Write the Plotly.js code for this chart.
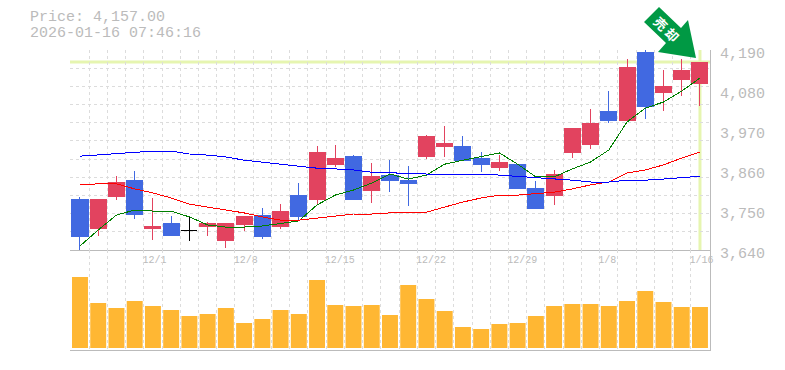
<!DOCTYPE html>
<html><head><meta charset="utf-8">
<script src="https://cdn.plot.ly/plotly-3.0.1.min.js"></script>
<style>html,body{margin:0;padding:0;background:#fff}#c{width:785px;height:370px}
.boxes path{stroke-linejoin:miter;shape-rendering:crispEdges}
.js-line{shape-rendering:crispEdges}
.xminorgrid,.x2minorgrid,.yminorgrid{shape-rendering:crispEdges}
.layer-below path{shape-rendering:crispEdges}
</style>
</head><body><div id="c"></div>
<script>
const priceLabel = "Price: 4,157.00";
const timeLabel = "2026-01-16 07:46:16";
const lastPrice = 4157;
const candleIdx = [0,1,2,3,4,5,7,8,9,10,11,12,13,14,15,16,17,18,19,20,21,22,23,24,25,26,27,28,29,30,31,32,33,34];
const opens  = [3780,3698,3788,3832,3698,3712,3706,3665,3709,3736,3706,3791,3780,3874,3896,3805,3846,3830,3898,3926,3926,3893,3868,3874,3810,3791,3909,3931,4022,3997,4184,4072,4110,4099];
const closes = [3676,3780,3827,3739,3706,3681,3714,3712,3731,3676,3747,3731,3907,3893,3780,3843,3830,3824,3951,3934,3887,3874,3882,3808,3753,3849,3975,3989,3997,4143,4036,4091,4135,4157];
const highs  = [3786,3780,3843,3857,3783,3733,3717,3712,3733,3755,3766,3824,3926,3929,3901,3879,3887,3871,3956,3981,3953,3909,3901,3874,3830,3860,3975,4028,4077,4165,4190,4135,4165,4157];
const lows   = [3640,3678,3777,3725,3668,3678,3678,3645,3692,3670,3698,3720,3766,3868,3780,3769,3799,3761,3890,3896,3887,3854,3857,3808,3753,3764,3893,3918,3989,3997,4000,4022,4063,4036];
const dojiIdx = [6];
const dojiOpen = [3695];
const dojiHigh = [3731];
const dojiLow = [3665];
const maIdx = [0,1,2,3,4,5,6,7,8,9,10,11,12,13,14,15,16,17,18,19,20,21,22,23,24,25,26,27,28,29,30,31,32,33,34];
const maShort = [3651,3695,3736,3750,3747,3747,3731,3709,3703,3703,3706,3712,3720,3764,3791,3805,3824,3849,3835,3846,3876,3887,3896,3907,3876,3841,3841,3863,3882,3915,3992,4030,4047,4077,4113];
const maMid   = [3819,3822,3822,3808,3797,3783,3766,3758,3750,3742,3731,3722,3722,3728,3733,3739,3739,3742,3742,3744,3758,3772,3783,3791,3791,3794,3799,3808,3819,3827,3852,3860,3874,3893,3909];
const maLong  = [3898,3901,3904,3907,3912,3912,3904,3901,3896,3887,3882,3876,3871,3865,3863,3860,3854,3852,3852,3849,3849,3849,3849,3846,3843,3838,3835,3832,3827,3827,3832,3832,3835,3838,3843];
const volIdx = maIdx;
const volumes = [71,45,40,47,42,38,32,34,40,25,29,38,34,68,43,42,43,33,63,49,37,21,19,24,25,32,42,44,44,42,47,57,46,41,41];
const xTickIdx = [3.4,8.4,13.4,18.4,23.4,28.4,33.4];
const xTickText = ["12/1","12/8","12/15","12/22","12/29","1/8","1/16"];
const yTickVals = [4190,4080,3970,3860,3750,3640];
const yTickText = ["4,190","4,080","3,970","3,860","3,750","3,640"];
const arrowText = "売&nbsp;却";

const RED="#e2435f", BLUE="#4169e1", GRID="#dcdcdc", AX="#bbbbbb", HL="#e6f5b0", ARROW="#009944";
const FONT="Liberation Mono, monospace";
const gridVals = maIdx.map(i=>i-0.5);
const traces = [
 {type:'candlestick',x:candleIdx,open:opens,close:closes,high:highs,low:lows,xaxis:'x',yaxis:'y',whiskerwidth:0,
  increasing:{line:{color:RED,width:1},fillcolor:RED},decreasing:{line:{color:BLUE,width:1},fillcolor:BLUE},hoverinfo:'skip'},
 {type:'candlestick',x:dojiIdx,open:dojiOpen,close:dojiOpen,high:dojiHigh,low:dojiLow,xaxis:'x',yaxis:'y',whiskerwidth:0,
  increasing:{line:{color:'#000',width:1},fillcolor:'#000'},decreasing:{line:{color:'#000',width:1},fillcolor:'#000'},hoverinfo:'skip'},
 {type:'scatter',mode:'lines',x:maIdx,y:maShort,line:{color:'#008000',width:1},xaxis:'x',yaxis:'y',hoverinfo:'skip'},
 {type:'scatter',mode:'lines',x:maIdx,y:maMid,line:{color:'#ff0000',width:1},xaxis:'x',yaxis:'y',hoverinfo:'skip'},
 {type:'scatter',mode:'lines',x:maIdx,y:maLong,line:{color:'#0000ff',width:1},xaxis:'x',yaxis:'y',hoverinfo:'skip'},
 {type:'bar',x:volIdx,y:volumes,width:0.875,marker:{color:'#ffb733',line:{width:0}},xaxis:'x2',yaxis:'y2',hoverinfo:'skip'}
];
const xr=[-0.548,34.55];
const DASH='3px,3px';
const layout = {
 width:785,height:370,margin:{l:70,r:75,t:50,b:20},paper_bgcolor:'#fff',plot_bgcolor:'#fff',showlegend:false,boxgap:0.12,boxgroupgap:0,
 font:{family:FONT,color:AX,size:15},
 xaxis:{domain:[0,1],range:xr,anchor:'y',rangeslider:{visible:false},tickvals:xTickIdx,ticktext:xTickText,tickfont:{size:10,color:AX,family:FONT},
  ticklabelposition:'outside right',ticks:'',ticklen:0,showgrid:false,zeroline:false,showline:true,linecolor:AX,linewidth:1,
  minor:{tickvals:gridVals,showgrid:true,griddash:DASH,gridcolor:GRID,gridwidth:1,ticks:''}},
 yaxis:{domain:[1/3,1],range:[3640,4190],side:'right',anchor:'x',tickvals:yTickVals,ticktext:yTickText,tickfont:{size:15,color:AX,family:FONT},
  ticks:'',ticklen:0,ticklabelstandoff:6,ticklabelshift:3,showgrid:false,zeroline:false,showline:true,linecolor:AX,linewidth:1,
  minor:{tick0:3640,dtick:50,showgrid:true,griddash:DASH,gridcolor:GRID,gridwidth:1,ticks:''}},
 xaxis2:{domain:[0,1],range:xr,anchor:'y2',showticklabels:false,ticks:'',showgrid:false,zeroline:false,showline:true,linecolor:AX,linewidth:1,
  tickvals:[],minor:{tickvals:gridVals,showgrid:true,griddash:DASH,gridcolor:GRID,gridwidth:1,ticks:''}},
 yaxis2:{domain:[0,1/3],range:[-2,98],side:'right',anchor:'x2',showticklabels:false,ticks:'',showgrid:false,zeroline:false,showline:true,linecolor:AX,linewidth:1},
 shapes:[
  {type:'line',xref:'x',yref:'y',x0:xr[0],x1:xr[1],y0:lastPrice,y1:lastPrice,line:{color:HL,width:3},layer:'below'},
  {type:'line',xref:'x',yref:'y',x0:34,x1:34,y0:3640,y1:4190,line:{color:HL,width:3},layer:'below'},
  {type:'path',xref:'paper',yref:'paper',
   path:'M '+[[659,7],[644,22],[666,43],[658,52],[696,58],[688,20],[681,28]].map(p=>((p[0]-70)/640)+','+((350-p[1])/300)).join(' L ')+' Z',
   fillcolor:ARROW,line:{width:0},layer:'above'}
 ],
 annotations:[
  {xref:'paper',yref:'paper',x:(28-70)/640,y:(350-18)/300,xanchor:'left',yanchor:'middle',text:priceLabel,showarrow:false,font:{size:15,color:AX,family:FONT}},
  {xref:'paper',yref:'paper',x:(28-70)/640,y:(350-33)/300,xanchor:'left',yanchor:'middle',text:timeLabel,showarrow:false,font:{size:15,color:AX,family:FONT}},
  {xref:'paper',yref:'paper',x:(666-70)/640,y:(350-29)/300,xanchor:'center',yanchor:'middle',text:'<b>'+arrowText+'</b>',textangle:45,showarrow:false,font:{size:13,color:'#fff',family:'Noto Sans CJK JP'}}
 ]
};
Plotly.newPlot('c',traces,layout,{staticPlot:true,displayModeBar:false}).then(function(gd){
  // the reference paints candles over the moving averages
  gd.querySelectorAll('.cartesianlayer .plot').forEach(function(p){
    var b=p.querySelector('.boxlayer'); if(b&&b.querySelector('.trace')) p.appendChild(b);
  });
});
</script></body></html>
